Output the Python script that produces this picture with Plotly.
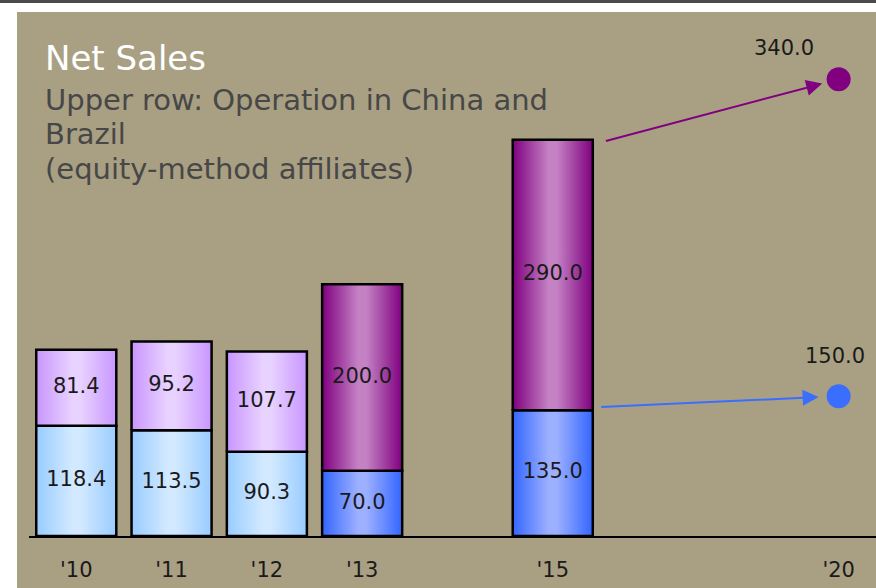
import plotly.graph_objects as go

# ---- data -------------------------------------------------------------
years = ["'10", "'11", "'12", "'13", "'15"]
lower_row = [118.4, 113.5, 90.3, 70.0, 135.0]
upper_row = [81.4, 95.2, 107.7, 200.0, 290.0]   # China and Brazil (equity-method affiliates)

target_year = "'20"
target_lower = 150.0
target_upper = 340.0

# axis slots; blank entries leave gaps between years
axis_slots = ["'10", "'11", "'12", "'13", "", "'15", "", "", "'20"]

title = "Net Sales"
subtitle_lines = [
    "Upper row: Operation in China and",
    "Brazil",
    "(equity-method affiliates)",
]

# ---- styling ----------------------------------------------------------
BG = "#A9A083"
FONT = "DejaVu Sans, Verdana, sans-serif"
BAR_W = 0.84


def gradient(edge, centre):
    return [[0, edge], [0.45, centre], [0.55, centre], [1, edge]]


LIGHT_BLUE = gradient("#99CCFF", "#D2E9FF")
LIGHT_PURPLE = gradient("#C896FF", "#E8D2FF")
BLUE = gradient("#3366FF", "#9DB0FF")
PURPLE = gradient("#800080", "#C482C4")

PURPLE_DOT = "#800080"
BLUE_DOT = "#3A6EFF"
TEXT = "#1a1a1a"

fig = go.Figure()


def add_segment(xc, base, value, scale):
    x0, x1 = xc - BAR_W / 2, xc + BAR_W / 2
    y0, y1 = base, base + value
    fig.add_trace(go.Scatter(
        x=[x0, x1, x1, x0, x0],
        y=[y0, y0, y1, y1, y0],
        mode="lines",
        fill="toself",
        fillgradient=dict(type="horizontal", colorscale=scale),
        line=dict(color="black", width=2.5),
        hoverinfo="skip",
        showlegend=False,
    ))


label_x, label_y, label_t = [], [], []
for i, yr in enumerate(years):
    xc = axis_slots.index(yr)
    dark = i >= 3
    add_segment(xc, 0, lower_row[i], BLUE if dark else LIGHT_BLUE)
    add_segment(xc, lower_row[i], upper_row[i], PURPLE if dark else LIGHT_PURPLE)
    label_x += [xc, xc]
    label_y += [lower_row[i] / 2, lower_row[i] + upper_row[i] / 2]
    label_t += [f"{lower_row[i]:.1f}", f"{upper_row[i]:.1f}"]

# value labels centred in each segment
fig.add_trace(go.Scatter(
    x=label_x, y=label_y, text=label_t, mode="text",
    textfont=dict(family=FONT, size=21, color=TEXT),
    hoverinfo="skip", showlegend=False,
))

# 2020 targets as dots (stacked)
tx = axis_slots.index(target_year)
fig.add_trace(go.Scatter(
    x=[tx, tx], y=[target_lower, target_lower + target_upper],
    mode="markers",
    marker=dict(size=24, color=[BLUE_DOT, PURPLE_DOT]),
    hoverinfo="skip", showlegend=False,
))

# arrows from the '15 bar to the '20 targets
x15 = axis_slots.index("'15")
total15 = lower_row[-1] + upper_row[-1]
fig.add_annotation(
    x=tx, y=target_lower + target_upper, xref="x", yref="y",
    ax=x15 + BAR_W / 2, ay=total15 - 5, axref="x", ayref="y",
    text="", showarrow=True, arrowhead=2, arrowsize=1.6, arrowwidth=2,
    arrowcolor=PURPLE_DOT, standoff=17, startstandoff=12,
)
fig.add_annotation(
    x=tx, y=target_lower, xref="x", yref="y",
    ax=x15 + BAR_W / 2, ay=lower_row[-1] + 3, axref="x", ayref="y",
    text="", showarrow=True, arrowhead=2, arrowsize=1.6, arrowwidth=2,
    arrowcolor=BLUE_DOT, standoff=20, startstandoff=7,
)

# target value labels
fig.add_annotation(
    x=tx, y=target_lower + target_upper, xref="x", yref="y",
    text=f"{target_upper:.1f}", showarrow=False, xshift=-55, yshift=31,
    font=dict(family=FONT, size=21, color=TEXT),
)
fig.add_annotation(
    x=tx, y=target_lower, xref="x", yref="y",
    text=f"{target_lower:.1f}", showarrow=False, xshift=-4, yshift=40,
    font=dict(family=FONT, size=21, color=TEXT),
)

# title block
fig.add_annotation(
    x=43 / 876, y=1 - 58 / 588, xref="paper", yref="paper",
    xanchor="left", yanchor="middle", showarrow=False,
    text=title, font=dict(family=FONT, size=34, color="white"),
)
for k, (line, yc) in enumerate(zip(subtitle_lines, [100, 134, 169])):
    fig.add_annotation(
        x=43 / 876, y=1 - yc / 588, xref="paper", yref="paper",
        xanchor="left", yanchor="middle", showarrow=False,
        text=line, font=dict(family=FONT, size=29, color="#474747"),
    )

tickvals = [i for i, s in enumerate(axis_slots) if s]
ticktext = [s for s in axis_slots if s]

fig.update_layout(
    width=876, height=588,
    margin=dict(l=0, r=0, t=0, b=0),
    paper_bgcolor="white",
    plot_bgcolor="rgba(0,0,0,0)",
    showlegend=False,
    shapes=[
        dict(type="rect", xref="paper", yref="paper", layer="below",
             x0=17 / 876, x1=1, y0=0, y1=1 - 12 / 588,
             fillcolor=BG, line=dict(width=0)),
        dict(type="rect", xref="paper", yref="paper", layer="below",
             x0=0, x1=1, y0=1 - 3 / 588, y1=1,
             fillcolor="#4a4a4a", line=dict(width=0)),
    ],
    xaxis=dict(
        domain=[29 / 876, 1], range=[-0.496, 8.392],
        tickvals=tickvals, ticktext=ticktext,
        showgrid=False, zeroline=False,
        showline=True, linecolor="black", linewidth=1.5,
        ticks="", ticklabelstandoff=14,
        tickfont=dict(family=FONT, size=21, color=TEXT),
    ),
    yaxis=dict(
        domain=[52 / 588, 1], range=[0, 575],
        showgrid=False, zeroline=False, showticklabels=False,
        showline=False,
    ),
)

fig.write_html("out.html")
